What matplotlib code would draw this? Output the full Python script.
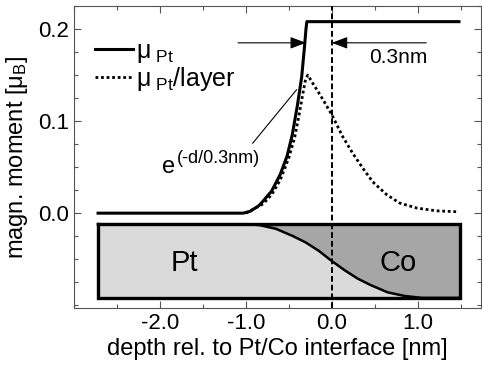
import matplotlib
matplotlib.use('Agg')
import matplotlib.pyplot as plt
from matplotlib.ticker import MultipleLocator, FormatStrFormatter

plt.rcParams['font.family'] = ['Liberation Sans', 'DejaVu Sans']
plt.rcParams['mathtext.fontset'] = 'custom'
plt.rcParams['mathtext.rm'] = 'Liberation Sans'
plt.rcParams['mathtext.it'] = 'Liberation Sans:italic'
plt.rcParams['axes.unicode_minus'] = False

# total Pt moment (solid line)
mu_d = [-2.72, -1.03, -0.95, -0.85, -0.80, -0.70, -0.60, -0.52, -0.46,
        -0.40, -0.35, -0.32, -0.30, -0.29, 1.48]
mu_v = [0.0, 0.0, 0.002, 0.008, 0.013, 0.024, 0.042, 0.062, 0.085,
        0.117, 0.148, 0.178, 0.200, 0.208, 0.208]

# moment per layer (dotted line)
lay_d = [-1.0, -0.8, -0.7, -0.6, -0.5, -0.43, -0.38, -0.34, -0.31, -0.28,
         -0.2, -0.1, 0.0, 0.128, 0.244, 0.36, 0.477, 0.64, 0.79, 0.99, 1.22, 1.47]
lay_v = [0.0, 0.010, 0.020, 0.036, 0.060, 0.083, 0.107, 0.128, 0.143, 0.150,
         0.138, 0.123, 0.107, 0.083, 0.065, 0.049, 0.034, 0.020, 0.011, 0.0055,
         0.0025, 0.0015]

# Pt/Co boundary inside the sketch box
bd_d = [-2.72, -1.0, -0.84, -0.65, -0.45, -0.30, -0.15, 0.0, 0.15, 0.30,
        0.45, 0.65, 0.85, 1.05, 1.49]
bd_v = [-0.012, -0.012, -0.013, -0.017, -0.025, -0.032, -0.041, -0.052,
        -0.062, -0.071, -0.078, -0.086, -0.090, -0.092, -0.092]
box_left, box_right = -2.72, 1.49
box_top, box_bottom = -0.012, -0.092

fig = plt.figure(figsize=(4.82, 3.70), dpi=100)
ax = fig.add_axes([0.1535, 0.1676, 0.845, 0.8162])

# sketch of the layers
ax.fill_between([box_left, box_right], box_bottom, box_top, color='#a6a6a6', lw=0, zorder=1)
ax.fill_between(bd_d, box_bottom, bd_v, color='#dadada', lw=0, zorder=1)
ax.plot(bd_d, bd_v, color='black', lw=1.8, zorder=2)
ax.plot([box_left, box_right, box_right, box_left, box_left],
        [box_top, box_top, box_bottom, box_bottom, box_top],
        color='black', lw=2.4, zorder=3, solid_joinstyle='miter')
ax.text(-1.71, -0.054, 'Pt', fontsize=21, ha='center', va='center', zorder=4)
ax.text(0.77, -0.054, 'Co', fontsize=21, ha='center', va='center', zorder=4)

ax.plot(mu_d, mu_v, color='black', lw=2.2, label='μ$_{\\rm\\ Pt}$', zorder=5)
ax.plot(lay_d, lay_v, color='black', lw=2.0, linestyle=(0, (1, 1)),
        label='μ$_{\\rm\\ Pt}$/layer', zorder=5)
ax.axvline(0.0, color='black', lw=1.4, linestyle=(0, (3, 1.5)), zorder=6)

# 0.3 nm marker
arrow = dict(arrowstyle='-|>,head_length=0.8,head_width=0.3', mutation_scale=12,
             color='black', lw=0.8, shrinkA=0, shrinkB=0)
ax.annotate('', xy=(-0.30, 0.185), xytext=(-1.09, 0.185), arrowprops=arrow)
ax.annotate('', xy=(0.0, 0.185), xytext=(1.1, 0.185), arrowprops=arrow)
ax.text(0.77, 0.169, '0.3nm', fontsize=15, ha='center', va='center')

# exponential label: "e" plus raised exponent as plain text (keeps the hyphen)
ax.plot([-0.92, -0.41], [0.076, 0.134], color='black', lw=0.8)
sup = ax.text(-0.84, 0.055, '(-d/0.3nm)', fontsize=13, ha='right', va='baseline')
ax.annotate('e', xy=(0, 0), xycoords=sup, xytext=(-1, -5), textcoords='offset points',
            fontsize=17, ha='right', va='baseline')

ax.set_xlim(-3.0, 1.74)
ax.set_ylim(-0.103, 0.225)
ax.xaxis.set_minor_locator(MultipleLocator(0.5))
ax.yaxis.set_minor_locator(MultipleLocator(0.025))
ax.set_xticks([-2.0, -1.0, 0.0, 1.0])
ax.set_yticks([0.0, 0.1, 0.2])
ax.xaxis.set_major_formatter(FormatStrFormatter('%.1f'))
ax.yaxis.set_major_formatter(FormatStrFormatter('%.1f'))
ax.tick_params(which='both', direction='in', top=True, right=True, color='#555555')
ax.tick_params(which='major', length=5, width=0.8, labelsize=16)
ax.tick_params(which='minor', length=3, width=0.8)
for s in ax.spines.values():
    s.set_linewidth(0.8)
    s.set_color('#555555')

ax.set_xlabel('depth rel. to Pt/Co interface [nm]', fontsize=17, labelpad=3)
ax.set_ylabel('magn. moment [μ$_{\\rm B}$]', fontsize=17, labelpad=6)

ax.legend(loc='upper left', bbox_to_anchor=(0.052, 0.89), frameon=False,
          fontsize=18, handlelength=1.5, handletextpad=0.15, borderpad=0,
          borderaxespad=0, labelspacing=0.0)

fig.savefig('out.png', dpi=100)
